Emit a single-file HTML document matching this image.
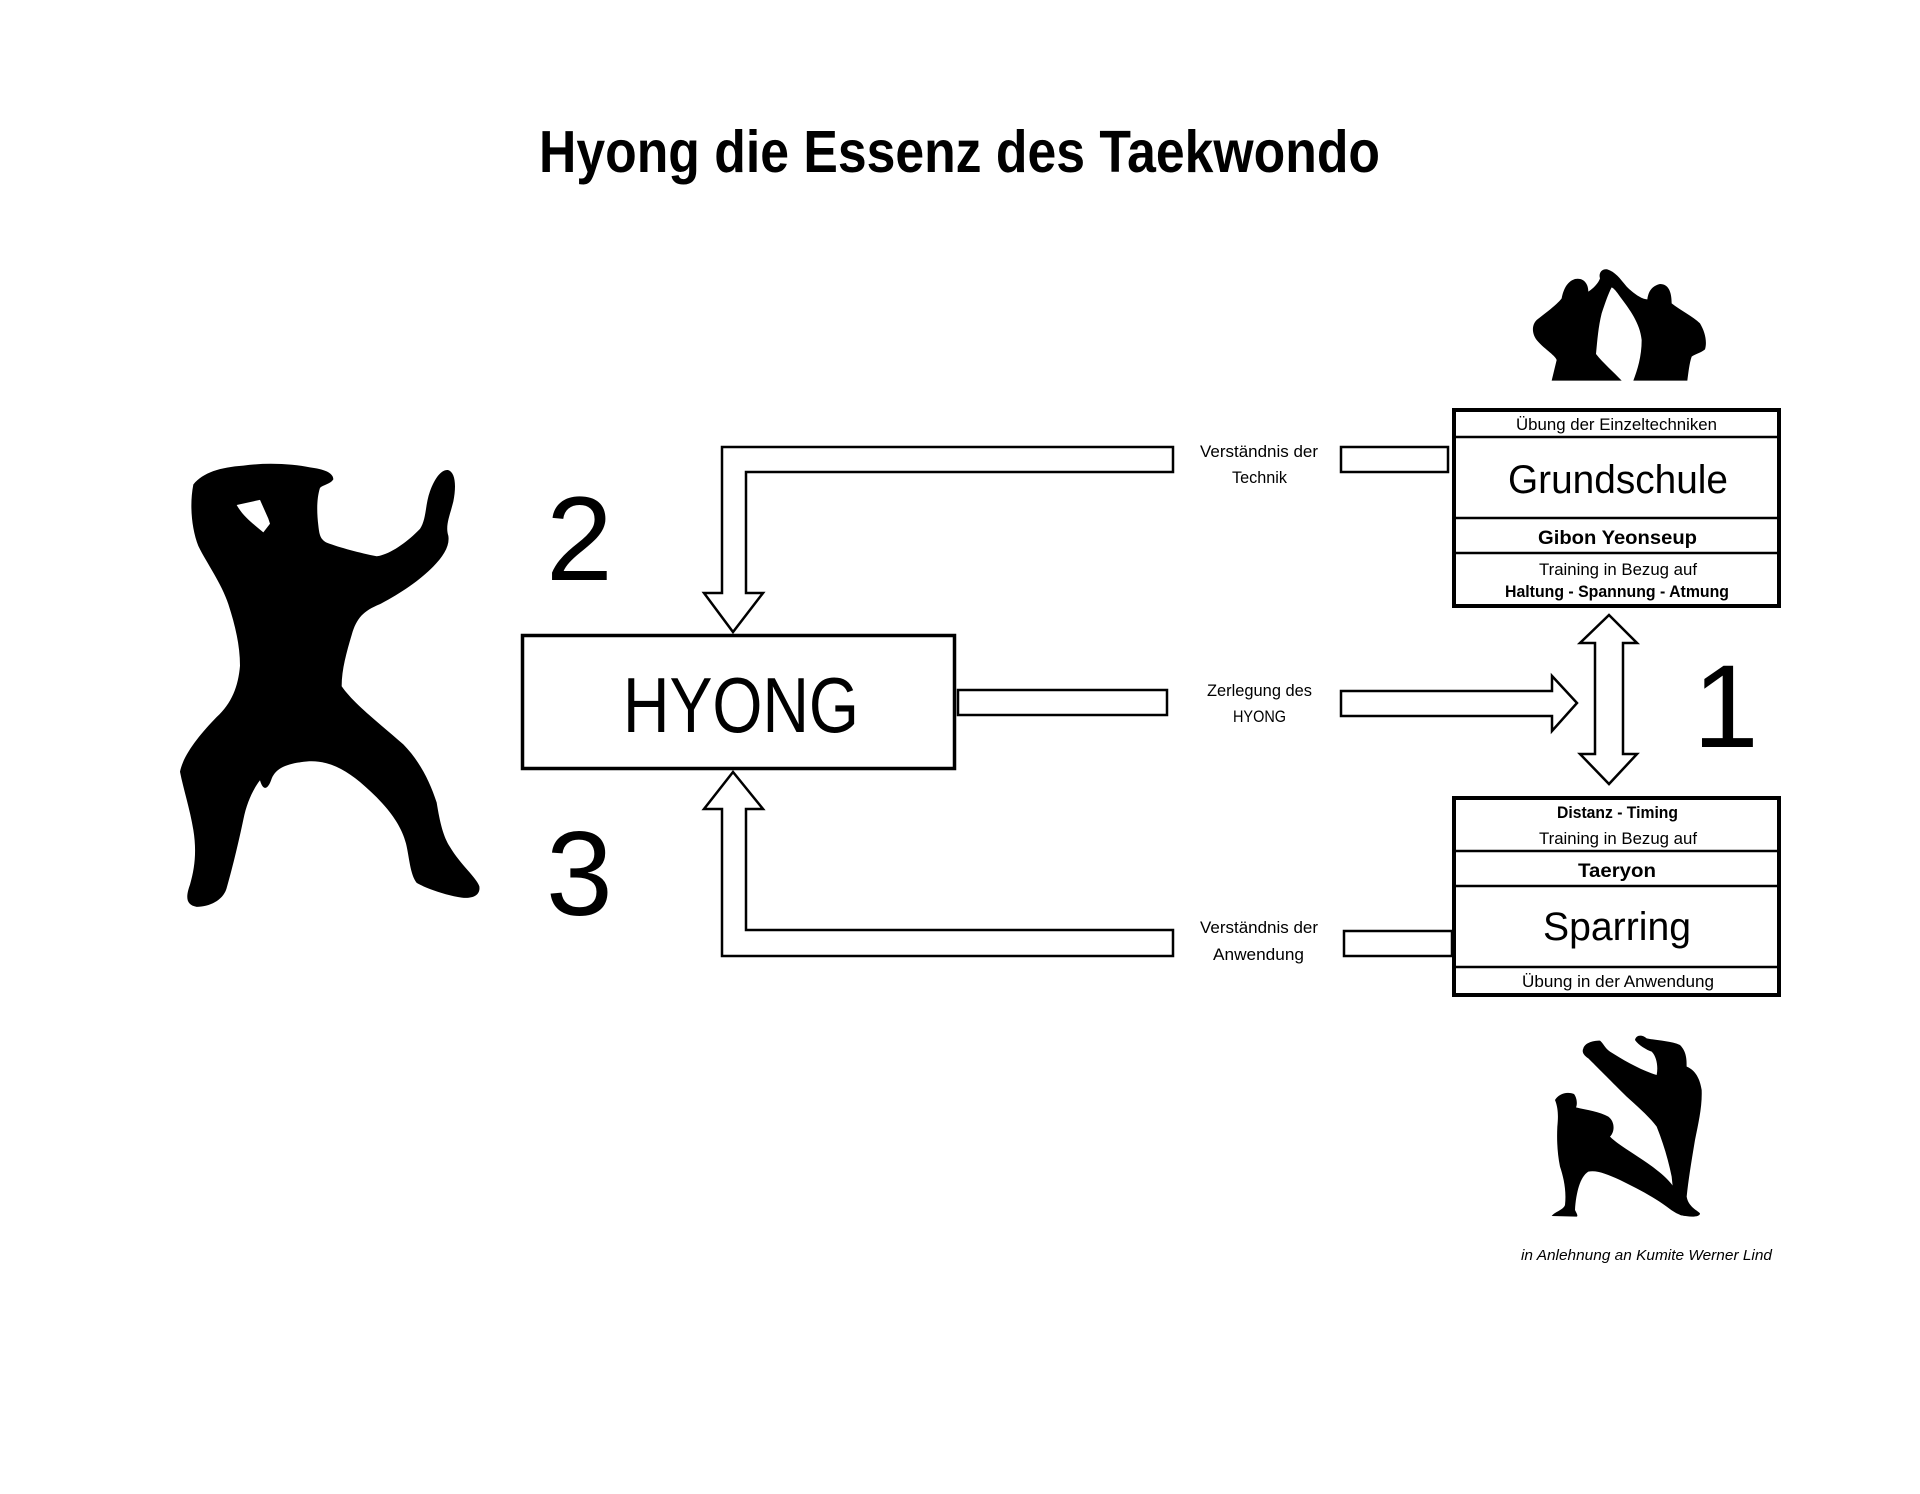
<!DOCTYPE html>
<html>
<head>
<meta charset="utf-8">
<style>
html,body{margin:0;padding:0;background:#fff;}
svg{display:block;}
text{font-family:"Liberation Sans",Arial,sans-serif;fill:#000;}
</style>
</head>
<body>
<svg width="1920" height="1494" viewBox="0 0 1920 1494" xmlns="http://www.w3.org/2000/svg">
<rect x="0" y="0" width="1920" height="1494" fill="#fff"/>

<!-- Title -->
<text x="539" y="172" font-size="59" font-weight="bold" textLength="841" lengthAdjust="spacingAndGlyphs">Hyong die Essenz des Taekwondo</text>

<!-- Left silhouette -->
<g transform="translate(160,440) scale(0.33333,0.342)">
<path fill="#000" fill-rule="evenodd" d="M100,130 C130,95 180,80 250,75 C320,65 400,70 450,80 C490,85 520,95 520,115 C510,130 490,130 480,140 C470,170 470,210 475,250 C478,275 480,290 500,300 C540,315 600,330 650,340 C690,335 740,300 780,260 C800,230 795,190 810,150 C825,110 845,85 865,88 C885,95 890,130 880,180 C870,220 855,250 865,280 C870,310 850,340 820,370 C780,410 720,450 660,480 C610,500 590,520 575,570 C560,620 545,670 545,720 C580,770 660,830 730,890 C780,940 810,1000 830,1060 C840,1120 850,1160 870,1190 C900,1240 950,1280 958,1305 C962,1330 940,1342 905,1338 C860,1332 800,1312 770,1295 C750,1270 748,1220 738,1180 C720,1110 660,1050 600,1000 C550,960 500,935 440,940 C390,945 350,955 335,990 C325,1020 310,1030 300,995 C280,1020 260,1060 250,1110 C235,1180 215,1260 200,1310 C190,1345 150,1365 110,1365 C80,1360 75,1340 90,1300 C105,1250 110,1200 100,1140 C90,1080 70,1020 60,970 C70,920 120,860 170,810 C215,770 235,720 240,660 C240,600 225,540 205,480 C185,420 140,360 115,310 C95,260 88,190 100,130 Z M230,190 L300,175 L325,230 L330,245 L310,270 C280,245 250,225 230,190 Z"/>
</g>

<!-- Top fighters -->
<g transform="translate(1520,260) scale(0.33333)">
<path fill="#000" d="M95,362 L110,300 C105,285 70,265 50,240 C35,220 35,195 50,180 C75,160 110,135 125,115 C130,90 140,65 165,57 C190,52 205,70 205,95 C220,85 235,70 240,55 C235,40 245,25 262,28 C285,35 300,55 320,80 C340,100 365,118 382,118 C385,95 395,78 420,72 C445,72 455,95 455,130 C480,150 520,170 540,190 C555,215 562,245 555,268 C540,280 525,282 515,290 C508,310 505,340 502,362 L340,362 C352,330 365,290 365,240 C360,190 330,150 300,110 C290,95 282,85 275,82 C265,100 255,130 245,160 C235,200 232,240 228,282 C250,310 280,335 305,362 Z"/>
</g>

<!-- Bottom fighters -->
<g transform="translate(1500,1020) scale(0.33333)">
<path fill="#000" d="M250,85 C255,70 275,62 300,62 C310,70 315,85 330,95 C370,120 420,150 470,165 C475,140 470,110 455,95 C440,90 415,75 405,60 C408,45 425,42 440,55 C470,62 510,62 540,75 C560,95 560,120 560,140 C585,150 600,175 605,210 C607,260 595,310 585,360 C575,420 565,480 560,530 C565,560 590,570 600,580 C600,592 570,592 540,585 C525,560 520,520 515,470 C505,420 490,370 470,320 C440,280 400,250 370,220 C330,180 290,140 265,115 C250,105 245,95 250,85 Z"/>
<path fill="#000" d="M165,240 C175,222 200,213 222,222 C232,235 232,255 228,262 C260,270 300,275 325,290 C345,305 345,335 330,350 C360,380 420,410 470,450 C510,480 530,510 545,540 C555,560 565,575 565,588 C540,590 520,575 500,560 C460,530 410,505 360,480 C320,462 290,450 265,455 C240,470 228,520 225,570 C230,580 235,588 230,590 L155,588 C165,575 190,570 195,555 C200,510 190,470 180,440 C172,400 170,360 172,320 C175,290 175,265 165,240 Z"/>
</g>

<!-- Numbers -->
<text x="546" y="580" font-size="120">2</text>
<text x="546" y="915" font-size="120">3</text>
<text x="1693" y="747" font-size="118">1</text>

<!-- Bent arrow top (2) -->
<polygon points="1173,447 722,447 722,593 704,593 733,632 763,593 746,593 746,472 1173,472" fill="#fff" stroke="#000" stroke-width="2.5" stroke-linejoin="miter"/>
<!-- Bent arrow bottom (3) -->
<polygon points="1173,956 722,956 722,809 704,809 733,772 763,809 746,809 746,930 1173,930" fill="#fff" stroke="#000" stroke-width="2.5" stroke-linejoin="miter"/>

<!-- HYONG box -->
<rect x="522.5" y="635.5" width="432" height="133" fill="#fff" stroke="#000" stroke-width="3.5"/>
<text x="623" y="732" font-size="78" textLength="236" lengthAdjust="spacingAndGlyphs">HYONG</text>
<!-- HYONG right connector -->
<rect x="958" y="690" width="209" height="25" fill="#fff" stroke="#000" stroke-width="2.5"/>

<!-- Middle labels -->
<text x="1200" y="457" font-size="16.5" textLength="118" lengthAdjust="spacingAndGlyphs">Verständnis der</text>
<text x="1232" y="483" font-size="16.5" textLength="55" lengthAdjust="spacingAndGlyphs">Technik</text>
<text x="1207" y="696" font-size="16.5" textLength="105" lengthAdjust="spacingAndGlyphs">Zerlegung des</text>
<text x="1233" y="722" font-size="16.5" textLength="53" lengthAdjust="spacingAndGlyphs">HYONG</text>
<text x="1200" y="933" font-size="16.5" textLength="118" lengthAdjust="spacingAndGlyphs">Verständnis der</text>
<text x="1213" y="960" font-size="16.5" textLength="91" lengthAdjust="spacingAndGlyphs">Anwendung</text>

<!-- Right side connectors -->
<rect x="1341" y="447" width="107" height="25" fill="#fff" stroke="#000" stroke-width="2.5"/>
<rect x="1344" y="931" width="108" height="25" fill="#fff" stroke="#000" stroke-width="2.5"/>
<polygon points="1341,691 1552,691 1552,676 1577,703 1552,731 1552,716 1341,716" fill="#fff" stroke="#000" stroke-width="2.5"/>
<polygon points="1609,615 1637,643 1623,643 1623,754 1637,754 1609,784 1580,754 1595,754 1595,643 1580,643" fill="#fff" stroke="#000" stroke-width="2.5"/>

<!-- Grundschule box -->
<rect x="1454" y="410" width="325" height="196" fill="#fff" stroke="#000" stroke-width="4"/>
<line x1="1454" y1="437" x2="1779" y2="437" stroke="#000" stroke-width="2.5"/>
<line x1="1454" y1="518" x2="1779" y2="518" stroke="#000" stroke-width="2.5"/>
<line x1="1454" y1="553" x2="1779" y2="553" stroke="#000" stroke-width="2.5"/>
<text x="1516" y="430" font-size="16.5" textLength="201" lengthAdjust="spacingAndGlyphs">Übung der Einzeltechniken</text>
<text x="1508" y="493" font-size="40" textLength="220" lengthAdjust="spacingAndGlyphs">Grundschule</text>
<text x="1538" y="544" font-size="19" font-weight="bold" textLength="159" lengthAdjust="spacingAndGlyphs">Gibon Yeonseup</text>
<text x="1539" y="575" font-size="16.5" textLength="158" lengthAdjust="spacingAndGlyphs">Training in Bezug auf</text>
<text x="1505" y="597" font-size="16.5" font-weight="bold" textLength="224" lengthAdjust="spacingAndGlyphs">Haltung - Spannung - Atmung</text>

<!-- Sparring box -->
<rect x="1454" y="798" width="325" height="197" fill="#fff" stroke="#000" stroke-width="4"/>
<line x1="1454" y1="851" x2="1779" y2="851" stroke="#000" stroke-width="2.5"/>
<line x1="1454" y1="886" x2="1779" y2="886" stroke="#000" stroke-width="2.5"/>
<line x1="1454" y1="967" x2="1779" y2="967" stroke="#000" stroke-width="2.5"/>
<text x="1557" y="818" font-size="16.5" font-weight="bold" textLength="121" lengthAdjust="spacingAndGlyphs">Distanz - Timing</text>
<text x="1539" y="844" font-size="16.5" textLength="158" lengthAdjust="spacingAndGlyphs">Training in Bezug auf</text>
<text x="1578" y="877" font-size="19" font-weight="bold" textLength="78" lengthAdjust="spacingAndGlyphs">Taeryon</text>
<text x="1543" y="940" font-size="40" textLength="148" lengthAdjust="spacingAndGlyphs">Sparring</text>
<text x="1522" y="987" font-size="16.5" textLength="192" lengthAdjust="spacingAndGlyphs">Übung in der Anwendung</text>

<!-- Credit -->
<text x="1521" y="1260" font-size="15" font-style="italic" textLength="251" lengthAdjust="spacingAndGlyphs">in Anlehnung an Kumite Werner Lind</text>
</svg>
</body>
</html>
